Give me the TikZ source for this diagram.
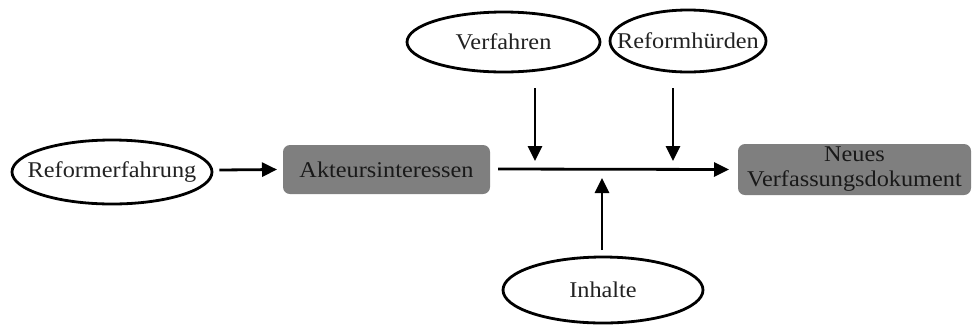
\documentclass[tikz,border=0pt]{standalone}
\usepackage{fontspec}
\setmainfont{Liberation Serif}[FakeStretch=1.08]
\usetikzlibrary{arrows.meta,shapes.geometric}
\definecolor{boxgray}{HTML}{7F7F7F}
\definecolor{txt}{HTML}{222222}
\tikzset{
  ell/.style={ellipse,draw=black,line width=2.8pt,fill=white,inner sep=0pt,font=\fontsize{22.5}{26}\selectfont,text=txt},
  gbox/.style={rectangle,rounded corners=7pt,fill=boxgray,draw=none,inner sep=0pt,font=\fontsize{22.5}{25}\selectfont,text=black!90,align=center},
  arr/.style={line width=2.8pt,-{Triangle[length=15pt,width=14pt]}}
}
\newcommand{\zb}[1]{\makebox[0pt]{#1}}
\begin{document}
\begin{tikzpicture}[x=1pt,y=-1pt]
\useasboundingbox (0,0) rectangle (973,325);
\node[ell,minimum width=200pt,minimum height=64pt] (ref) at (112,172) {\zb{Reformerfahrung}};
\node[gbox,minimum width=207pt,minimum height=49pt] (akt) at (386.5,169.5) {\zb{Akteursinteressen}};
\node[gbox,minimum width=233pt,minimum height=51pt] (neu) at (854.5,169.5) {\zb{Neues}\\\zb{Verfassungsdokument}};
\node[ell,minimum width=193pt,minimum height=60pt] (verf) at (503.5,42) {\zb{Verfahren}};
\node[ell,minimum width=156pt,minimum height=62pt] (hurd) at (688,41) {\zb{Reformhürden}};
\node[ell,minimum width=200pt,minimum height=66pt] (inh) at (603,290) {\zb{Inhalte}};
\coordinate (ls) at (498,169);
\coordinate (v1s) at (535,88);
\coordinate (v1e) at (535,161);
\coordinate (v2s) at (673,88);
\coordinate (v2e) at (673,161);
\coordinate (us) at (602,250);
\coordinate (ue) at (602,178);
\draw[arr] (ref.east) ++(6,-2) coordinate (rs) -- (akt.west -| 277,0);
\draw[arr] (ls) -- (neu.west -| 729,0);
\draw[arr] (v1s) -- (v1e);
\draw[arr] (v2s) -- (v2e);
\draw[arr] (us) -- (ue);
\end{tikzpicture}
\end{document}
